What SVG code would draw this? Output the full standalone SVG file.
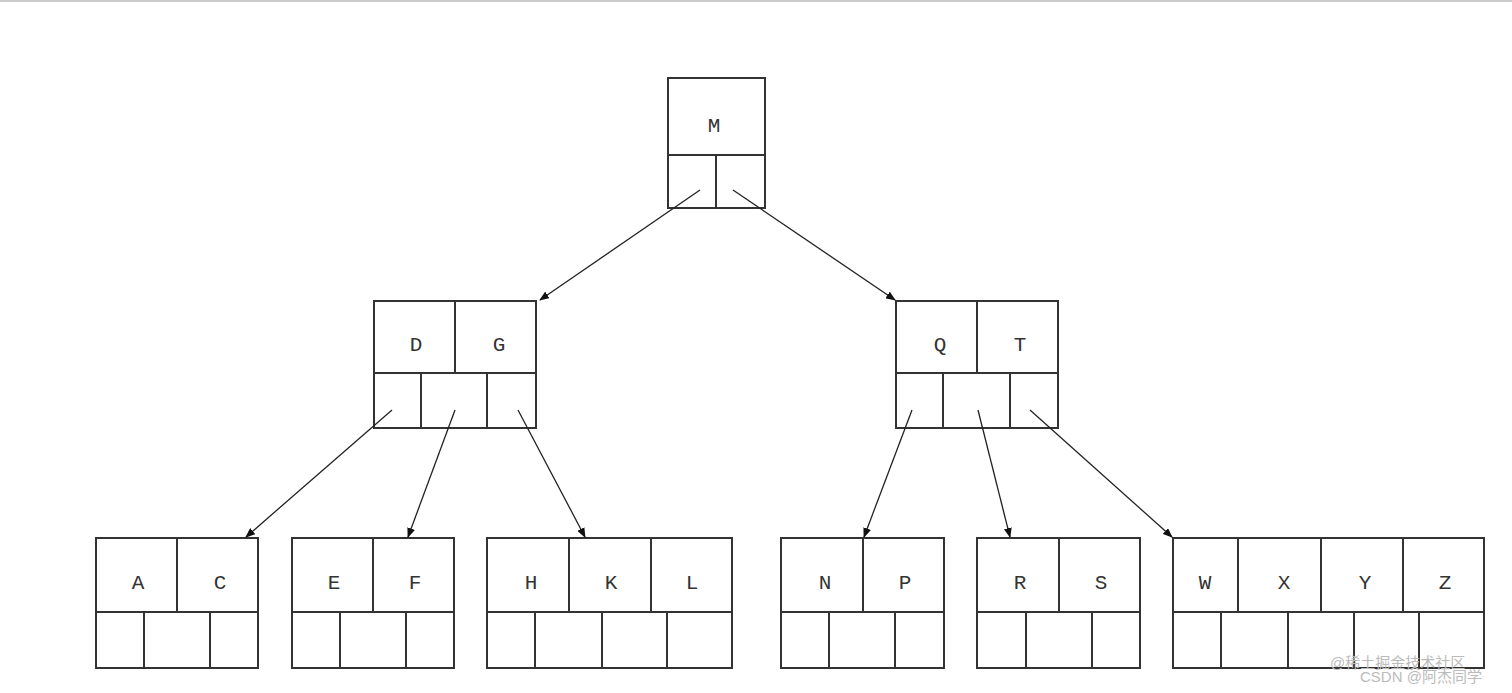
<svg xmlns="http://www.w3.org/2000/svg" width="1512" height="693" viewBox="0 0 1512 693">
<style>
.b{fill:#fff;stroke:#333;stroke-width:2}
.l{stroke:#333;stroke-width:2}
.t{font-family:"Liberation Mono",monospace;font-size:21px;fill:#333;text-anchor:middle}
.c{stroke:#222;stroke-width:1.3;marker-end:url(#a)}
.w{font-family:"Liberation Sans","Noto Sans CJK SC",sans-serif;font-size:15px;fill:#bbb}
</style>
<defs><marker id="a" markerWidth="10" markerHeight="8" refX="9" refY="4" orient="auto" markerUnits="userSpaceOnUse"><path d="M0,0L10,4L0,8z" fill="#111"/></marker></defs>
<rect width="1512" height="693" fill="#fff"/>
<line x1="0" y1="1" x2="1512" y2="1" stroke="#ccc" stroke-width="2"/>
<g id="M"><rect class="b" x="668" y="78" width="97" height="130"/><line class="l" x1="668" y1="155" x2="765" y2="155"/><line class="l" x1="716" y1="155" x2="716" y2="208"/><text class="t" x="714" y="132">M</text></g>
<g id="DG"><rect class="b" x="374" y="301" width="162" height="127"/><line class="l" x1="374" y1="373" x2="536" y2="373"/><line class="l" x1="455" y1="301" x2="455" y2="373"/><line class="l" x1="421" y1="373" x2="421" y2="428"/><line class="l" x1="487" y1="373" x2="487" y2="428"/><text class="t" x="416" y="351">D</text><text class="t" x="499" y="351">G</text></g>
<g id="QT"><rect class="b" x="896" y="301" width="162" height="127"/><line class="l" x1="896" y1="373" x2="1058" y2="373"/><line class="l" x1="977" y1="301" x2="977" y2="373"/><line class="l" x1="943" y1="373" x2="943" y2="428"/><line class="l" x1="1010" y1="373" x2="1010" y2="428"/><text class="t" x="940" y="351">Q</text><text class="t" x="1020" y="351">T</text></g>
<g id="AC"><rect class="b" x="96" y="538" width="162" height="130"/><line class="l" x1="96" y1="612" x2="258" y2="612"/><line class="l" x1="177" y1="538" x2="177" y2="612"/><line class="l" x1="144" y1="612" x2="144" y2="668"/><line class="l" x1="210" y1="612" x2="210" y2="668"/><text class="t" x="138" y="589">A</text><text class="t" x="220" y="589">C</text></g>
<g id="EF"><rect class="b" x="292" y="538" width="162" height="130"/><line class="l" x1="292" y1="612" x2="454" y2="612"/><line class="l" x1="373" y1="538" x2="373" y2="612"/><line class="l" x1="340" y1="612" x2="340" y2="668"/><line class="l" x1="406" y1="612" x2="406" y2="668"/><text class="t" x="334" y="589">E</text><text class="t" x="415" y="589">F</text></g>
<g id="HKL"><rect class="b" x="487" y="538" width="245" height="130"/><line class="l" x1="487" y1="612" x2="732" y2="612"/><line class="l" x1="569" y1="538" x2="569" y2="612"/><line class="l" x1="651" y1="538" x2="651" y2="612"/><line class="l" x1="535" y1="612" x2="535" y2="668"/><line class="l" x1="602" y1="612" x2="602" y2="668"/><line class="l" x1="667" y1="612" x2="667" y2="668"/><text class="t" x="531" y="589">H</text><text class="t" x="611" y="589">K</text><text class="t" x="692" y="589">L</text></g>
<g id="NP"><rect class="b" x="781" y="538" width="163" height="130"/><line class="l" x1="781" y1="612" x2="944" y2="612"/><line class="l" x1="863" y1="538" x2="863" y2="612"/><line class="l" x1="829" y1="612" x2="829" y2="668"/><line class="l" x1="895" y1="612" x2="895" y2="668"/><text class="t" x="825" y="589">N</text><text class="t" x="905" y="589">P</text></g>
<g id="RS"><rect class="b" x="977" y="538" width="163" height="130"/><line class="l" x1="977" y1="612" x2="1140" y2="612"/><line class="l" x1="1059" y1="538" x2="1059" y2="612"/><line class="l" x1="1026" y1="612" x2="1026" y2="668"/><line class="l" x1="1092" y1="612" x2="1092" y2="668"/><text class="t" x="1020" y="589">R</text><text class="t" x="1101" y="589">S</text></g>
<g id="WXYZ"><rect class="b" x="1173" y="538" width="311" height="130"/><line class="l" x1="1173" y1="612" x2="1484" y2="612"/><line class="l" x1="1238" y1="538" x2="1238" y2="612"/><line class="l" x1="1321" y1="538" x2="1321" y2="612"/><line class="l" x1="1403" y1="538" x2="1403" y2="612"/><line class="l" x1="1221" y1="612" x2="1221" y2="668"/><line class="l" x1="1288" y1="612" x2="1288" y2="668"/><line class="l" x1="1354" y1="612" x2="1354" y2="668"/><line class="l" x1="1419" y1="612" x2="1419" y2="668"/><text class="t" x="1205" y="589">W</text><text class="t" x="1284" y="589">X</text><text class="t" x="1365" y="589">Y</text><text class="t" x="1445" y="589">Z</text></g>
<g id="connectors">
<line class="c" x1="700" y1="190" x2="540" y2="300"/>
<line class="c" x1="733" y1="190" x2="895" y2="300"/>
<line class="c" x1="392" y1="410" x2="246" y2="537"/>
<line class="c" x1="455" y1="410" x2="408" y2="537"/>
<line class="c" x1="518" y1="410" x2="585" y2="537"/>
<line class="c" x1="912" y1="410" x2="864" y2="537"/>
<line class="c" x1="978" y1="410" x2="1010" y2="537"/>
<line class="c" x1="1030" y1="410" x2="1172" y2="537"/>
</g>
<text class="w" x="1330" y="668">@稀土掘金技术社区</text>
<text class="w" x="1360" y="682">CSDN @阿杰同学</text>
</svg>
